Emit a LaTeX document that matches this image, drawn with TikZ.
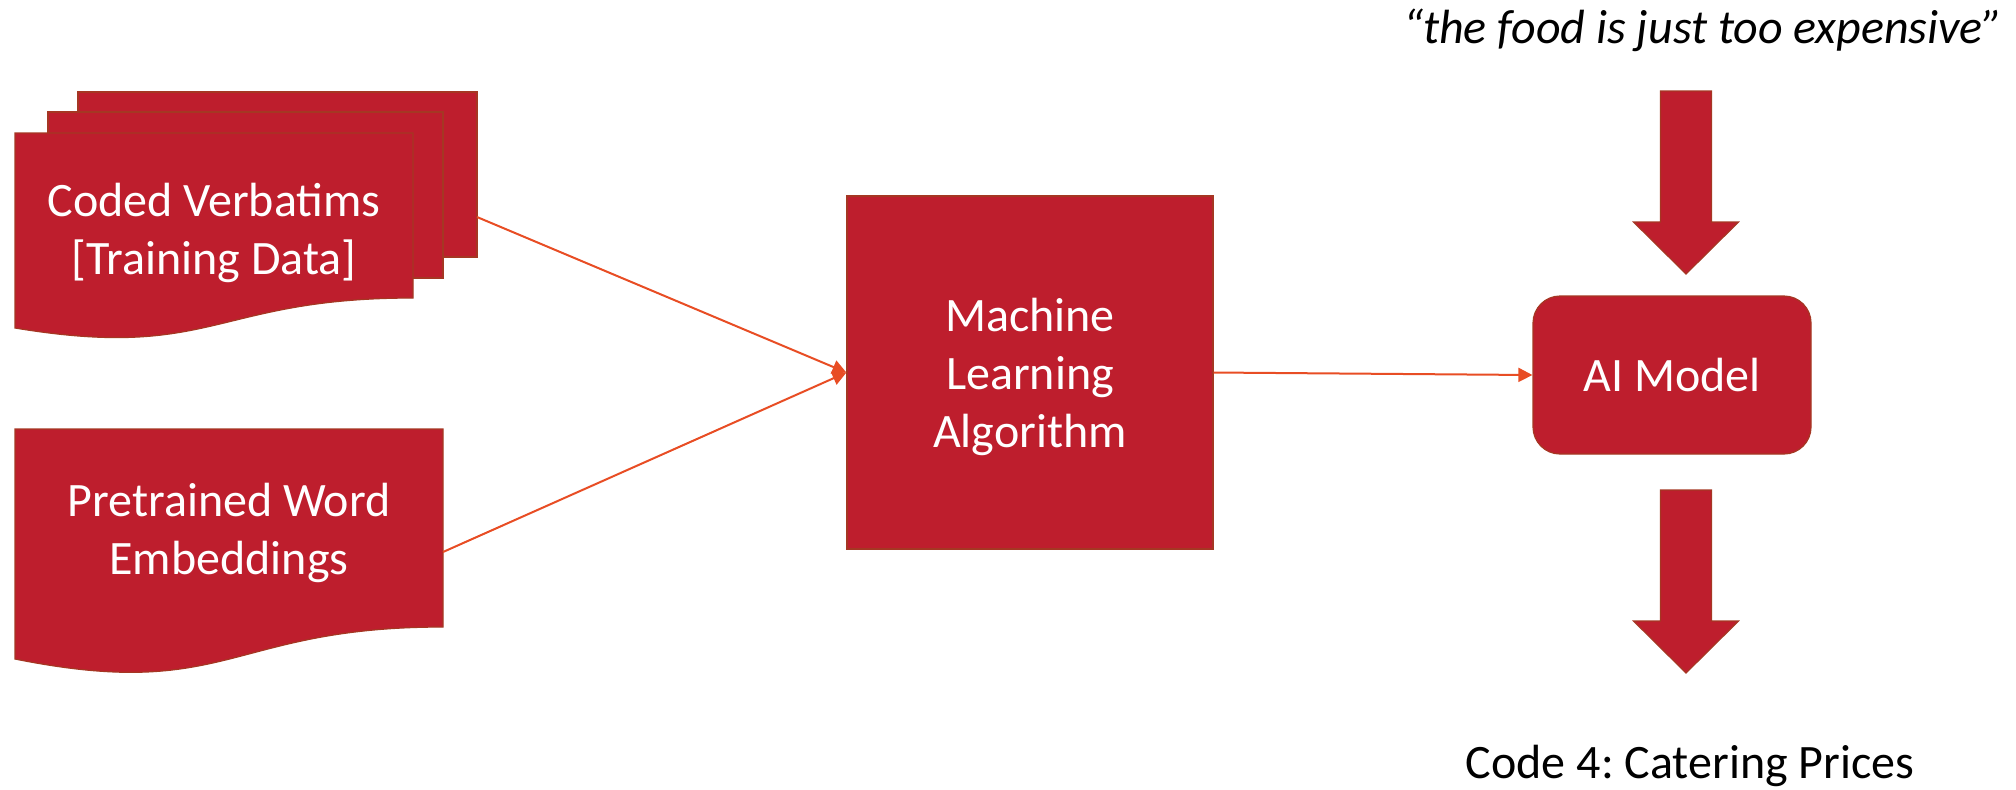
\documentclass[tikz,border=0pt]{standalone}
\usepackage{fontspec}
\setmainfont{Carlito}
\usetikzlibrary{arrows.meta,positioning}
\frenchspacing

\definecolor{boxred}{RGB}{190,30,45}
\definecolor{rimred}{RGB}{165,55,35}
\definecolor{linkred}{RGB}{232,77,36}

\tikzset{
  sheet/.style={fill=boxred, draw=rimred, line width=0.6pt},
  boxtext/.style={text=white, align=center, inner sep=0pt,
    font=\fontsize{24}{29}\selectfont},
  link/.style={draw=linkred, line width=1pt,
    -{Triangle[length=7pt,width=7pt]}},
}

% block arrow pointing down, top centre at (#1,#2)
\newcommand\bigdown[2]{%
  \filldraw[sheet] ({#1-25.5},#2) -- ({#1+25.5},#2) -- ({#1+25.5},{#2+131})
    -- ({#1+52.5},{#2+131}) -- (#1,{#2+183}) -- ({#1-52.5},{#2+131})
    -- ({#1-25.5},{#2+131}) -- cycle;}

\begin{document}
\begin{tikzpicture}[x=0.5pt, y=-0.5pt]
    \useasboundingbox (0,0) rectangle (2016,789);
    % stacked documents
    \filldraw[sheet] (78,92) rectangle (477,257);
    \filldraw[sheet] (48,112) rectangle (443,278);
    \filldraw[sheet] (15,133) -- (413,133) -- (413,298)
        .. controls (214,298) and (214,361) .. (15,328) -- cycle;
    \node[boxtext] (coded) at (214,233) {Coded Verbatims\\{}[Training Data]};
    \coordinate (codedout) at (477,217);
    % single document
    \filldraw[sheet] (15,429) -- (443,429) -- (443,627)
        .. controls (229,627) and (229,702) .. (15,659) -- cycle;
    \node[boxtext] (pretrained) at (229,533) {Pretrained Word\\Embeddings};
    \coordinate (pretrainedout) at (443,552);
    % learner and model
    \node[sheet, minimum width=183pt, minimum height=176.5pt]
        (ml) at (1030,372.5) {};
    \node[boxtext] (mltext) at ([yshift=-2pt]ml.center)
        {Machine\\Learning\\Algorithm};
    \node[sheet, boxtext, rounded corners=13.5pt, minimum width=139pt,
        minimum height=79pt] (ai) at (1672,375) {AI Model};
    \draw[link] (codedout) -- (ml.west);
    \draw[link] (pretrainedout) -- (ml.west);
    \draw[link] (ml.east) -- (ai.west);
    % input and output
    \node[anchor=base, inner sep=0pt, font=\fontsize{24}{29}\selectfont\itshape]
        (verbatim) at (1703,43) {“the food is just too expensive”};
    \bigdown{1686}{91}
    \bigdown{1686}{490}
    \node[anchor=base, inner sep=0pt, font=\fontsize{24}{29}\selectfont]
        (code) at (1690,778) {Code 4: Catering Prices};
\end{tikzpicture}
\end{document}
